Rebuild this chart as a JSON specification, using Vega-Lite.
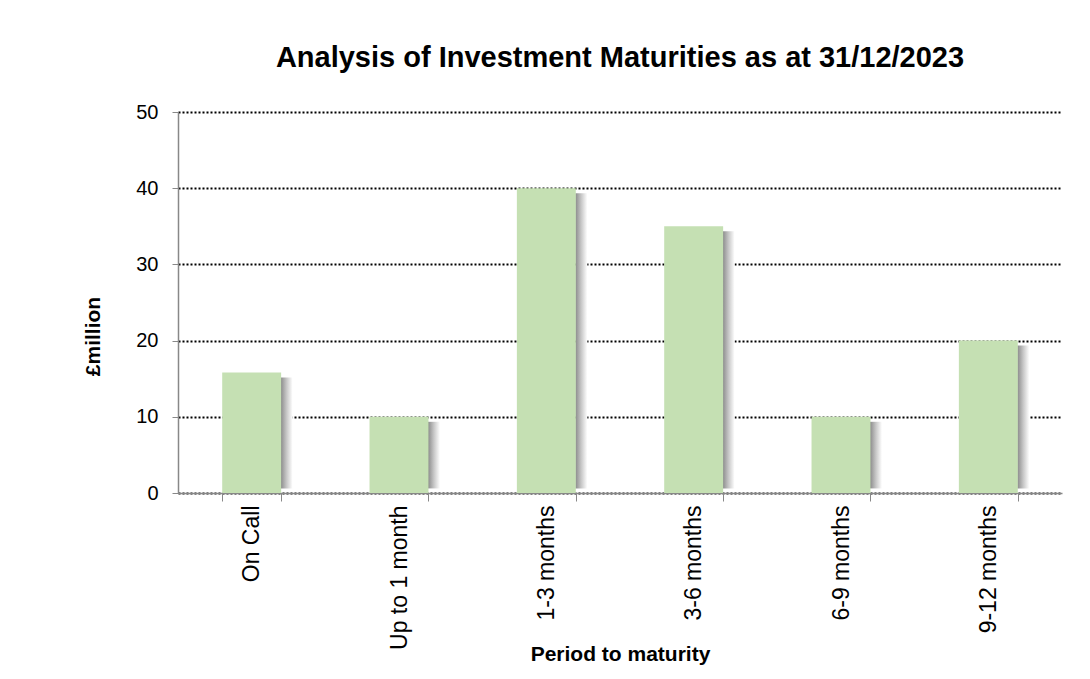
{
  "$schema": "https://vega.github.io/schema/vega-lite/v6.json",
  "autosize": "none",
  "width": 884,
  "height": 381,
  "padding": {"left": 178, "top": 112, "right": 28, "bottom": 186},
  "background": "white",
  "title": {
    "text": "Analysis of Investment Maturities as at 31/12/2023",
    "font": "Liberation Sans",
    "fontSize": 29,
    "fontWeight": "bold",
    "color": "black",
    "anchor": "middle",
    "baseline": "alphabetic",
    "offset": 6
  },
  "data": {
    "values": [
      {"period": "On Call", "value": 15.8},
      {"period": "Up to 1 month", "value": 10},
      {"period": "1-3 months", "value": 40},
      {"period": "3-6 months", "value": 35},
      {"period": "6-9 months", "value": 10},
      {"period": "9-12 months", "value": 20}
    ]
  },
  "config": {
    "view": {"stroke": null},
    "axis": {"labelFont": "Liberation Sans", "titleFont": "Liberation Sans", "labelColor": "black", "titleColor": "black"}
  },
  "encoding": {
    "x": {
      "field": "period",
      "type": "nominal",
      "sort": null,
      "scale": {"paddingInner": 0.6, "paddingOuter": 0.3},
      "axis": {
        "title": "Period to maturity",
        "titleFontSize": 21,
        "titleFontWeight": "bold",
        "titleY": 161,
        "titleBaseline": "middle",
        "labelAngle": -90,
        "labelFontSize": 23,
        "labelPadding": 4,
        "labelAlign": "right",
        "labelBaseline": "middle",
        "tickBand": "extent",
        "tickSize": 8,
        "tickColor": "#888",
        "domainColor": "#888",
        "domainWidth": 1.5,
        "grid": false
      }
    },
    "y": {
      "field": "value",
      "type": "quantitative",
      "scale": {"domain": [0, 50], "nice": false},
      "axis": {
        "title": "£million",
        "titleFontSize": 21,
        "titleFontWeight": "bold",
        "titleAngle": -90,
        "titleX": -85,
        "titleY": 224,
        "titleAlign": "center",
        "titleBaseline": "middle",
        "values": [0, 10, 20, 30, 40, 50],
        "labelFontSize": 20,
        "labelPadding": 14,
        "tickSize": 6,
        "tickColor": "#888",
        "domainColor": "#888",
        "domainWidth": 1.5,
        "grid": true,
        "gridColor": "black",
        "gridWidth": 2,
        "gridDash": [2, 2],
        "gridOpacity": 1
      }
    }
  },
  "layer": [
    {
      "mark": {
        "type": "bar",
        "size": 12,
        "xOffset": 35,
        "yOffset": 5,
        "color": {
          "gradient": "linear",
          "x1": 0, "x2": 1, "y1": 0, "y2": 0,
          "stops": [
            {"offset": 0, "color": "#8a8a8a"},
            {"offset": 0.5, "color": "#c8c8c8"},
            {"offset": 1, "color": "#ffffff"}
          ]
        }
      },
      "encoding": {"y2": {"datum": 0.6}}
    },
    {
      "mark": {"type": "bar", "color": "#c5e0b3"}
    }
  ]
}
